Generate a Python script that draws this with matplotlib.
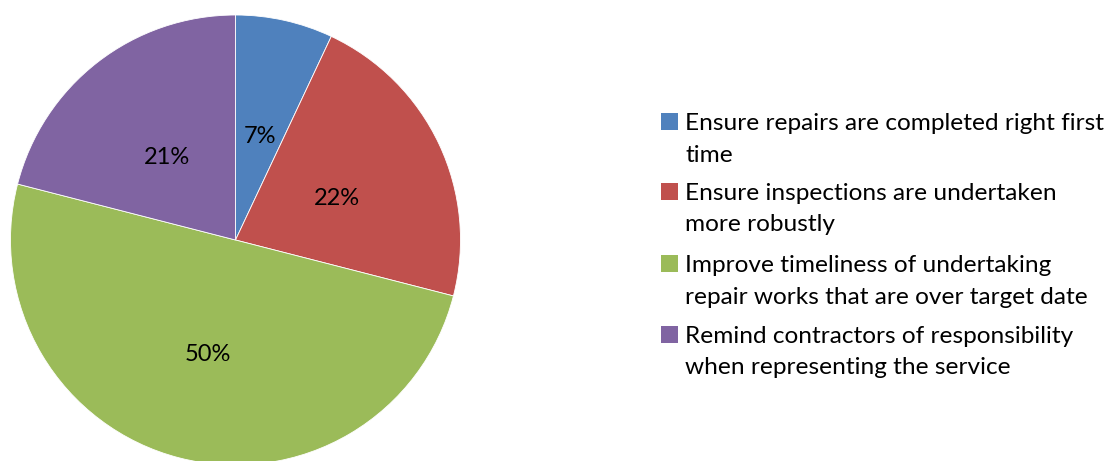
import matplotlib.pyplot as plt
from matplotlib.patches import Rectangle

plt.rcParams['font.family'] = ['Lato', 'DejaVu Sans']

# share of responses per action
labels = [
    ['Ensure repairs are completed right first', 'time'],
    ['Ensure inspections are undertaken', 'more robustly'],
    ['Improve timeliness of undertaking', 'repair works that are over target date'],
    ['Remind contractors of responsibility', 'when representing the service'],
]
shares = [7, 22, 50, 21]
colors = ['#4F81BD', '#C0504D', '#9BBB59', '#8064A2']

W, H = 1111, 461
fig = plt.figure(figsize=(W / 100, H / 100), dpi=100)
ax = fig.add_axes([0, 0, 1, 1])

# pie drawn in pixel-like data units (y up)
wedges, texts, autotexts = ax.pie(
    shares, colors=colors, startangle=90, counterclock=False,
    center=(235.5, H - 240), radius=225,
    autopct='%d%%', pctdistance=0.5,
    textprops={'fontsize': 17, 'color': 'black'},
    wedgeprops={'edgecolor': 'white', 'linewidth': 0.6})
for t in autotexts:
    x, y = t.get_position()
    t.set_position((x, y - 6))
ax.set_xlim(0, W)
ax.set_ylim(0, H)
ax.set_aspect('equal')
ax.axis('off')

# legend: square key next to the first line of each wrapped label
first_baselines = [130, 200, 272, 343]
line_gap = 31.5
for lines, col, yb in zip(labels, colors, first_baselines):
    ax.add_patch(Rectangle((661, H - yb), 17, 17, facecolor=col,
                           edgecolor='none'))
    for k, line in enumerate(lines):
        ax.text(685, H - yb - k * line_gap, line, fontsize=17.6,
                ha='left', va='baseline')

fig.savefig('out.png', dpi=100)
